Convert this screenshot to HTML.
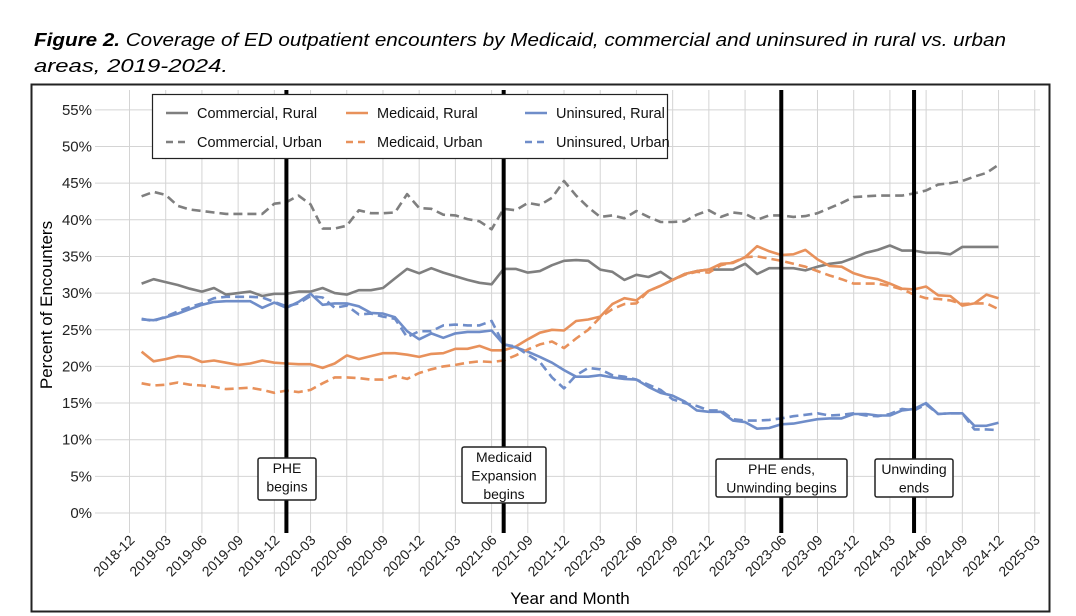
<!DOCTYPE html>
<html><head><meta charset="utf-8"><style>
html,body{margin:0;padding:0;background:#fff;}
svg{display:block;font-family:"Liberation Sans",sans-serif;}
</style></head><body>
<svg id="chart" width="1076" height="616" viewBox="0 0 1076 616" xmlns="http://www.w3.org/2000/svg">
<text x="34" y="46" font-size="18" font-style="italic" textLength="972" lengthAdjust="spacingAndGlyphs"><tspan font-weight="bold">Figure 2.</tspan> Coverage of ED outpatient encounters by Medicaid, commercial and uninsured in rural vs. urban</text>
<text x="34" y="72" font-size="18" font-style="italic" textLength="194" lengthAdjust="spacingAndGlyphs">areas, 2019-2024.</text>
<rect x="31.5" y="84.5" width="1018" height="527" fill="none" stroke="#222" stroke-width="2"/>
<g id="grid"></g>
<g id="yaxis"></g>
<g id="xaxis"></g>
<g id="series"></g>
<g id="events"></g>
<text transform="translate(52,305) rotate(-90)" text-anchor="middle" font-size="17">Percent of Encounters</text>
<text x="570" y="604" text-anchor="middle" font-size="17">Year and Month</text>
<g id="legend"></g>
</svg>
<script>
const seriesNames = ["Commercial, Rural","Medicaid, Rural","Uninsured, Rural","Commercial, Urban","Medicaid, Urban","Uninsured, Urban"];
const commercialRural = [31.3,31.9,31.5,31.1,30.6,30.2,30.7,29.8,30.0,30.2,29.6,29.9,29.9,30.2,30.2,30.7,30.0,29.8,30.4,30.4,30.7,32.0,33.3,32.7,33.4,32.8,32.3,31.8,31.4,31.2,33.3,33.3,32.8,33.0,33.8,34.4,34.5,34.4,33.2,32.9,31.8,32.5,32.2,32.9,31.8,32.6,33.0,33.2,33.2,33.2,34.0,32.6,33.4,33.4,33.4,33.1,33.6,34.0,34.2,34.8,35.5,35.9,36.5,35.8,35.8,35.5,35.5,35.3,36.3,36.3,36.3,36.3];
const commercialUrban = [43.2,43.8,43.4,41.9,41.4,41.2,41.0,40.8,40.8,40.8,40.8,42.2,42.4,43.3,42.1,38.8,38.8,39.2,41.3,40.9,40.9,41.0,43.5,41.6,41.5,40.7,40.6,40.1,39.8,38.7,41.5,41.3,42.3,42.0,43.0,45.3,43.3,41.7,40.4,40.6,40.2,41.2,40.4,39.7,39.7,39.8,40.7,41.3,40.4,41.0,40.8,40.0,40.6,40.6,40.4,40.5,40.9,41.6,42.3,43.1,43.2,43.3,43.3,43.3,43.6,44.0,44.8,45.0,45.3,45.9,46.4,47.5];
const medicaidRural = [22.0,20.7,21.0,21.4,21.3,20.6,20.8,20.5,20.2,20.4,20.8,20.5,20.4,20.3,20.3,19.8,20.4,21.5,21.0,21.4,21.8,21.8,21.6,21.3,21.7,21.8,22.4,22.4,22.8,22.2,22.2,22.7,23.7,24.6,25.0,24.9,26.2,26.4,26.8,28.5,29.3,29.0,30.3,31.0,31.8,32.6,33.0,33.2,34.0,34.1,34.9,36.4,35.7,35.2,35.3,35.9,34.6,33.7,33.6,32.7,32.2,31.9,31.3,30.6,30.5,30.9,29.7,29.6,28.3,28.6,29.8,29.3];
const medicaidUrban = [17.7,17.4,17.5,17.8,17.5,17.4,17.2,16.9,17.0,17.1,16.8,16.4,16.7,16.5,16.8,17.7,18.5,18.5,18.4,18.2,18.2,18.7,18.3,19.1,19.6,20.0,20.2,20.5,20.7,20.6,20.8,21.5,22.3,23.0,23.4,22.5,23.8,25.0,26.7,27.8,28.5,28.6,30.3,31.0,31.8,32.5,32.9,32.8,33.8,34.2,34.9,35.0,34.7,34.4,34.0,33.6,33.0,32.4,31.9,31.3,31.3,31.3,31.0,30.5,29.8,29.3,29.2,29.0,28.5,28.6,28.6,27.8];
const uninsuredRural = [26.4,26.3,26.7,27.2,27.8,28.4,28.8,28.9,28.9,28.9,28.0,28.7,28.0,28.8,29.9,28.4,28.6,28.6,28.2,27.3,27.2,26.7,24.8,23.7,24.5,23.9,24.5,24.7,24.7,24.9,23.0,22.6,22.0,21.3,20.5,19.5,18.6,18.6,18.8,18.5,18.3,18.2,17.2,16.4,16.0,15.2,14.0,13.8,13.8,12.6,12.4,11.5,11.6,12.1,12.2,12.5,12.8,12.9,12.9,13.5,13.5,13.3,13.3,14.0,14.2,15.0,13.5,13.6,13.6,11.9,11.9,12.3];
const uninsuredUrban = [26.5,26.2,26.8,27.5,28.1,28.6,29.3,29.5,29.5,29.5,29.4,28.8,28.2,28.6,29.6,29.4,28.0,28.3,27.1,27.2,26.8,26.5,24.0,24.8,24.8,25.6,25.7,25.6,25.6,26.2,23.0,22.7,21.6,20.6,18.5,17.0,18.8,19.8,19.6,18.8,18.6,18.2,17.5,16.8,15.5,15.0,14.6,14.0,14.0,12.8,12.6,12.6,12.7,12.9,13.2,13.4,13.6,13.3,13.4,13.6,13.3,13.2,13.5,14.2,14.0,14.8,13.5,13.6,13.6,11.4,11.4,11.3];
const yTicks = [0,5,10,15,20,25,30,35,40,45,50,55];
const xTickLabels = ["2018-12","2019-03","2019-06","2019-09","2019-12","2020-03","2020-06","2020-09","2020-12","2021-03","2021-06","2021-09","2021-12","2022-03","2022-06","2022-09","2022-12","2023-03","2023-06","2023-09","2023-12","2024-03","2024-06","2024-09","2024-12","2025-03"];
const eventMonths = [13,31,54,65];
const eventLabels = [["PHE","begins"],["Medicaid","Expansion","begins"],["PHE ends,","Unwinding begins"],["Unwinding","ends"]];

const NS="http://www.w3.org/2000/svg";
function el(tag,attrs,parent){const e=document.createElementNS(NS,tag);for(const k in attrs)e.setAttribute(k,attrs[k]);parent.appendChild(e);return e;}
function xScale(m){return 129.5+12.07*m;}
function yScale(v){return 513-v*7.33;}
const grid=document.getElementById('grid'),yax=document.getElementById('yaxis'),xax=document.getElementById('xaxis');
yTicks.forEach(t=>{
  const l=el('line',{x1:95,x2:1040,y1:yScale(t),y2:yScale(t),stroke:'#d4d4d4','stroke-width':1},grid);
  
  
  const tx=el('text',{x:92,y:yScale(t)+5,'text-anchor':'end','font-size':15,fill:'#222'},yax);
  tx.textContent=t+'%';
  
  
});
xTickLabels.forEach((lab,i)=>{
  const x=xScale(i*3);
  const l=el('line',{x1:x,x2:x,y1:90,y2:533,stroke:'#d4d4d4','stroke-width':1},grid);
  
  
  const tx=el('text',{transform:`translate(${x+6},541) rotate(-45)`,'text-anchor':'end','font-size':14,fill:'#222'},xax);
  tx.textContent=lab;
  
  
});
const colors=['#7f7f7f','#e8915b','#6f8dc9'];
const data=[commercialRural,medicaidRural,uninsuredRural,commercialUrban,medicaidUrban,uninsuredUrban];
const sg=document.getElementById('series');
data.forEach((arr,i)=>{
  const pts=arr.map((v,j)=>xScale(j+1).toFixed(1)+','+yScale(v).toFixed(1)).join(' ');
  const attrs={points:pts,fill:'none',stroke:colors[i%3],'stroke-width':2.6,'stroke-linejoin':'round'};
  if(i>=3)attrs['stroke-dasharray']='9,5';
  const p=el('polyline',attrs,sg);
  
  
});
const eg=document.getElementById('events');
const boxes=[[258,458,58,42],[462,447,84,56],[716,459,131,38],[875,459,78,38]];
eventMonths.forEach((m,i)=>{
  const x=xScale(m);
  const l=el('line',{x1:x,x2:x,y1:90,y2:533,stroke:'#000','stroke-width':4},eg);
  
  
  const b=boxes[i];
  const r=el('rect',{x:b[0],y:b[1],width:b[2],height:b[3],rx:2,fill:'#fff',stroke:'#222','stroke-width':1.5},eg);
  
  
  const lines=eventLabels[i];
  lines.forEach((s,k)=>{
    const t=el('text',{x:b[0]+b[2]/2,y:b[1]+15+k*18.5,'text-anchor':'middle','font-size':14,fill:'#111'},eg);
    t.textContent=s;
    
    
  });
});
const lg=document.getElementById('legend');
const lr=el('rect',{x:152.5,y:94.5,width:515,height:64,fill:'#fff',stroke:'#222','stroke-width':1.2},lg);


const lx=[166,346,525];
seriesNames.forEach((n,i)=>{
  const col=i%3,row=Math.floor(i/3);
  const y=113+row*29;
  const a={x1:lx[col],x2:lx[col]+22,y1:y,y2:y,stroke:colors[col],'stroke-width':2.6};
  if(row)a['stroke-dasharray']='7,5';
  const l=el('line',a,lg);
  
  
  const t=el('text',{x:lx[col]+31,y:y+5,'font-size':14.5,fill:'#111'},lg);
  t.textContent=n;
  
  
});
</script>
</body></html>
